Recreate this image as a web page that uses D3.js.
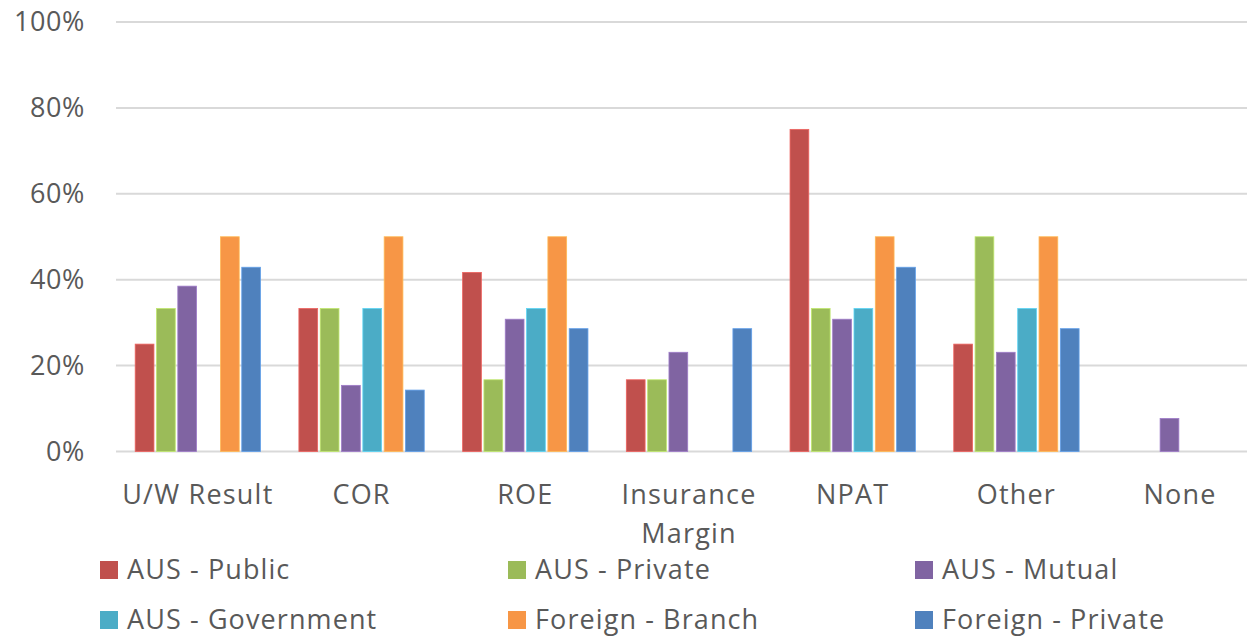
<!DOCTYPE html>
<html>
<head>
<meta charset="utf-8">
<script src="https://cdn.jsdelivr.net/npm/d3@7.9.0/dist/d3.min.js"></script>
<style>
  html, body { margin: 0; padding: 0; background: #fff; overflow: hidden; }
  svg text { font-family: "Open Sans", "Liberation Sans", sans-serif; fill: #595959; }
</style>
</head>
<body>
<svg id="chart" width="1247" height="639"></svg>
<script>
// categories + series (in %)
const categories = ['U/W Result', 'COR', 'ROE', 'Insurance Margin', 'NPAT', 'Other', 'None'];
const seriesNames = ['AUS - Public', 'AUS - Private', 'AUS - Mutual', 'AUS - Government', 'Foreign - Branch', 'Foreign - Private'];
const seriesColors = ['#C0504D', '#9BBB59', '#8064A2', '#4BACC6', '#F79646', '#4F81BD'];

const ausPublic     = [25.0, 33.3, 41.7, 16.7, 75.0, 25.0, 0];
const ausPrivate    = [33.3, 33.3, 16.7, 16.7, 33.3, 50.0, 0];
const ausMutual     = [38.5, 15.4, 30.8, 23.1, 30.8, 23.1, 7.7];
const ausGovernment = [0, 33.3, 33.3, 0, 33.3, 33.3, 0];
const foreignBranch = [50.0, 50.0, 50.0, 0, 50.0, 50.0, 0];
const foreignPriv   = [42.9, 14.3, 28.6, 28.6, 42.9, 28.6, 0];

const yTicks = [0, 20, 40, 60, 80, 100];

const allSeries = [ausPublic, ausPrivate, ausMutual, ausGovernment, foreignBranch, foreignPriv];

const svg = d3.select('#chart');

const plot = { left: 116, right: 1262, top: 22, bottom: 451.5 };

const x0 = d3.scaleBand()
  .domain(categories)
  .range([plot.left, plot.right])
  .paddingInner(0)
  .paddingOuter(0);

const x1 = d3.scaleBand()
  .domain(d3.range(seriesNames.length))
  .range([0, x0.bandwidth()])
  .paddingInner(0.12)
  .paddingOuter(0.9);

const y = d3.scaleLinear().domain([0, 100]).range([plot.bottom, plot.top]);

// gridlines
svg.append('g')
  .selectAll('line')
  .data(yTicks)
  .join('line')
    .attr('x1', plot.left)
    .attr('x2', 1247)
    .attr('y1', d => y(d))
    .attr('y2', d => y(d))
    .attr('stroke', '#d9d9d9')
    .attr('stroke-width', 2);

// y labels
svg.append('g')
  .selectAll('text')
  .data(yTicks)
  .join('text')
    .attr('x', 85)
    .attr('y', d => y(d))
    .attr('dy', '0.35em')
    .attr('text-anchor', 'end')
    .attr('font-size', 27)
    .attr('letter-spacing', 0.6)
    .text(d => d + '%');

// bars
const groups = svg.append('g')
  .selectAll('g')
  .data(categories)
  .join('g')
    .attr('transform', d => `translate(${x0(d)},0)`);

groups.selectAll('rect')
  .data((c, ci) => allSeries.map((s, si) => ({ si, v: s[ci] })).filter(d => d.v > 0))
  .join('rect')
    .attr('x', d => x1(d.si))
    .attr('width', x1.bandwidth())
    .attr('y', d => y(d.v))
    .attr('height', d => plot.bottom - y(d.v))
    .attr('fill', d => seriesColors[d.si])
    .attr('stroke', d => d3.color(seriesColors[d.si]).brighter(0.6))
    .attr('stroke-width', 0.8);

// category labels (wrap "Insurance Margin")
const catLabels = svg.append('g')
  .selectAll('text')
  .data(categories)
  .join('text')
    .attr('x', d => x0(d) + x0.bandwidth() / 2)
    .attr('y', 504)
    .attr('text-anchor', 'middle')
    .attr('font-size', 27)
    .attr('letter-spacing', 1.2);

catLabels.each(function(d) {
  const t = d3.select(this);
  const parts = d === 'Insurance Margin' ? ['Insurance', 'Margin'] : [d];
  parts.forEach((p, i) => {
    t.append('tspan')
      .attr('x', x0(d) + x0.bandwidth() / 2)
      .attr('dy', i === 0 ? 0 : 39)
      .text(p);
  });
});

// legend: 3 columns x 2 rows
const legendCols = [100, 508, 915];
const legendRows = [570, 620];

const leg = svg.append('g')
  .selectAll('g')
  .data(seriesNames)
  .join('g')
    .attr('transform', (d, i) => `translate(${legendCols[i % 3]},${legendRows[Math.floor(i / 3)]})`);

leg.append('rect')
  .attr('x', 0)
  .attr('y', -9)
  .attr('width', 18)
  .attr('height', 18)
  .attr('fill', (d, i) => seriesColors[i]);

leg.append('text')
  .attr('x', 27)
  .attr('y', 0)
  .attr('dy', '0.35em')
  .attr('font-size', 27)
  .attr('letter-spacing', 1.1)
  .text(d => d);
</script>
</body>
</html>
